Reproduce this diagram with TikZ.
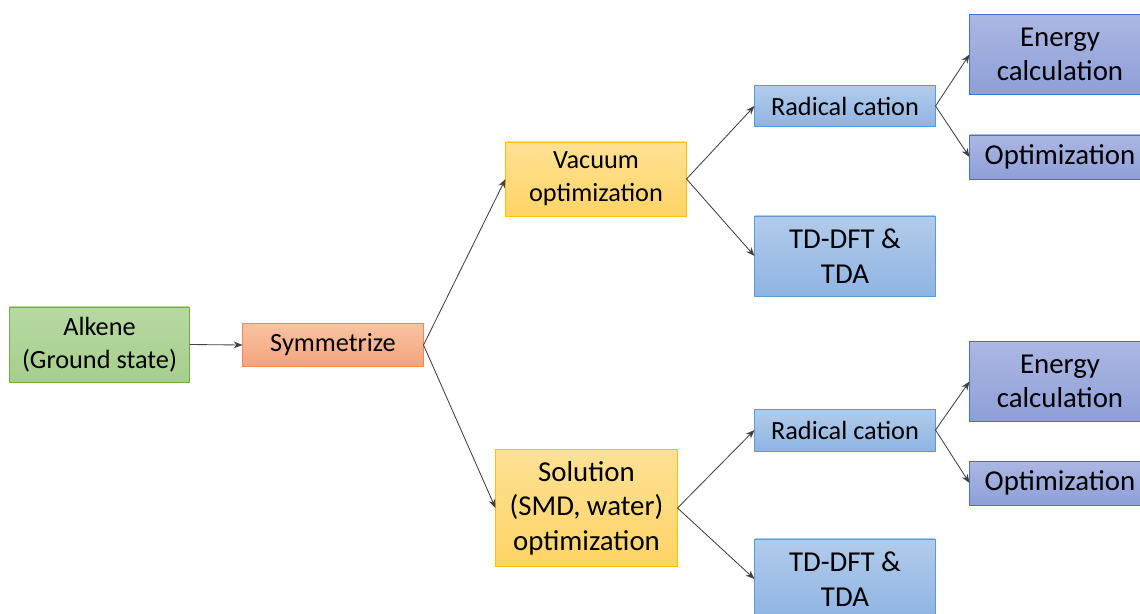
\documentclass[tikz,border=0pt]{standalone}
\usepackage{fontspec}
\setmainfont{Carlito}
\usetikzlibrary{arrows.meta}

\definecolor{greenTop}{HTML}{B7D8A3}
\definecolor{greenBot}{HTML}{A6CF8B}
\definecolor{greenLine}{HTML}{70AD47}
\definecolor{orangeTop}{HTML}{F8C3A4}
\definecolor{orangeBot}{HTML}{F4A47C}
\definecolor{orangeLine}{HTML}{F4894F}
\definecolor{yellowTop}{HTML}{FFE195}
\definecolor{yellowBot}{HTML}{FFD466}
\definecolor{yellowLine}{HTML}{FFC000}
\definecolor{skyTop}{HTML}{B2CBEA}
\definecolor{skyBot}{HTML}{8FB4E3}
\definecolor{skyLine}{HTML}{5B9BD5}
\definecolor{navyTop}{HTML}{ACB7E2}
\definecolor{navyBot}{HTML}{8E9FD8}
\definecolor{navyLine}{HTML}{4472C4}
\definecolor{linkgray}{HTML}{404040}

\begin{document}
\begin{tikzpicture}[x=0.025cm,y=-0.025cm,
    box/.style={line width=0.7pt, align=center, inner sep=0pt, text=black,
        font=\fontsize{18.7}{23.5}\selectfont},
    bigbox/.style={box, font=\fontsize{20.5}{24.5}\selectfont},
    greenbox/.style={top color=greenTop, bottom color=greenBot, draw=greenLine},
    orangebox/.style={top color=orangeTop, bottom color=orangeBot, draw=orangeLine},
    yellowbox/.style={top color=yellowTop, bottom color=yellowBot, draw=yellowLine},
    skybox/.style={top color=skyTop, bottom color=skyBot, draw=skyLine},
    navybox/.style={top color=navyTop, bottom color=navyBot, draw=navyLine},
    link/.style={draw=linkgray, line width=0.6pt, -{Stealth[length=2.2mm,width=1.7mm]}}
]
    \def\boxw{4.5cm}
    \useasboundingbox (0,0) rectangle (1140,613);

    % Start of the chain
    \node[box, greenbox, minimum width=4.475cm, minimum height=1.875cm] (alkene) at (99.5,344.5) {Alkene\\(Ground state)};
    \node[box, orangebox, minimum width=\boxw, minimum height=1.075cm] (sym) at (333,345) {Symmetrize};

    % Two optimization routes
    \node[box, yellowbox, minimum width=\boxw, minimum height=1.85cm] (vac) at (596,179) {Vacuum\\optimization};
    \node[bigbox, yellowbox, minimum width=4.525cm, minimum height=2.9cm] (sol) at (586.5,508) {Solution\\(SMD, water)\\optimization};

    % Vacuum branch
    \node[box, skybox, minimum width=\boxw, minimum height=1.025cm] (radV) at (845,106) {Radical cation};
    \node[bigbox, skybox, minimum width=\boxw, minimum height=2cm] (tdV) at (845,256) {TD-DFT \&\\TDA};
    \node[bigbox, navybox, minimum width=\boxw, minimum height=2cm] (enV) at (1060,54.5) {Energy\\calculation};
    \node[bigbox, navybox, minimum width=\boxw, minimum height=1.1cm] (optV) at (1060,157) {Optimization};

    % Solution branch
    \node[box, skybox, minimum width=\boxw, minimum height=1.05cm] (radS) at (845,430) {Radical cation};
    \node[bigbox, skybox, minimum width=\boxw, minimum height=2cm] (tdS) at (845,579) {TD-DFT \&\\TDA};
    \node[bigbox, navybox, minimum width=\boxw, minimum height=2cm] (enS) at (1060,381.5) {Energy\\calculation};
    \node[bigbox, navybox, minimum width=\boxw, minimum height=1.1cm] (optS) at (1060,483) {Optimization};

    % Connectors
    \foreach \from/\to in {alkene/sym, sym/vac, sym/sol, vac/radV, vac/tdV, radV/enV, radV/optV,
                           sol/radS, sol/tdS, radS/enS, radS/optS} {
        \draw[link] (\from.east) -- (\to.west);
    }
\end{tikzpicture}
\end{document}
